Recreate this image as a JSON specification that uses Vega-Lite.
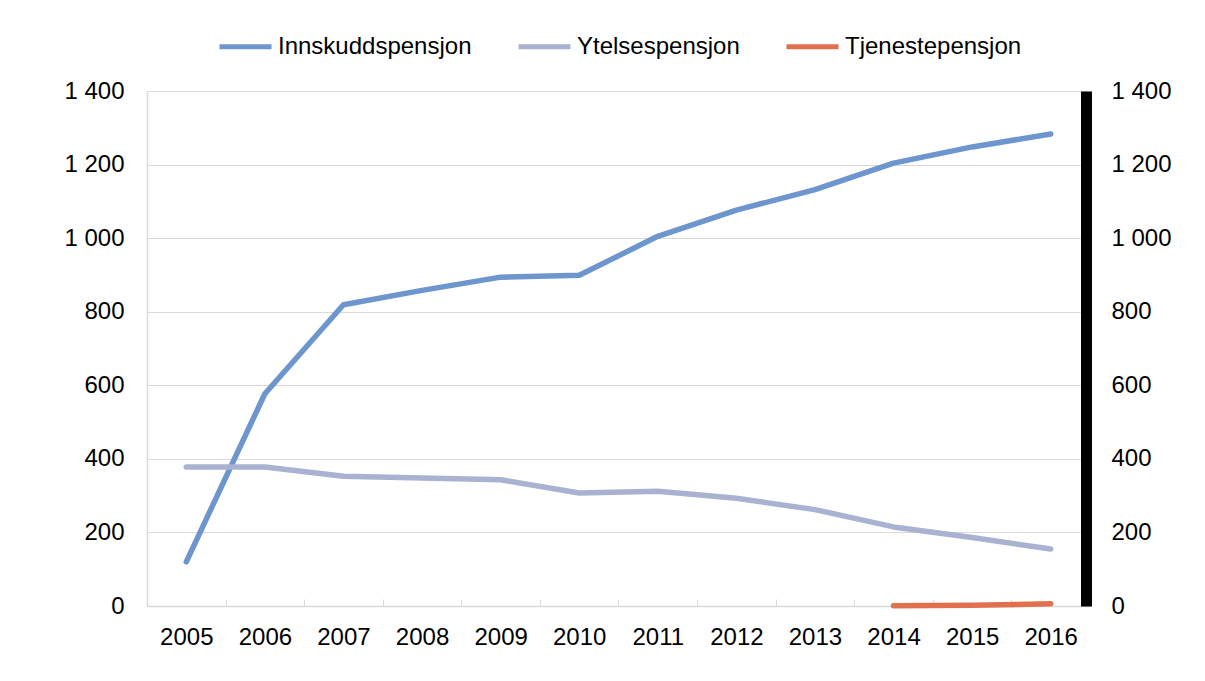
{
  "$schema": "https://vega.github.io/schema/vega-lite/v6.json",
  "width": 943,
  "height": 515,
  "autosize": {"type": "none"},
  "padding": {"left": 147, "top": 91, "right": 115, "bottom": 75},
  "background": "white",
  "config": {
    "font": "Liberation Sans",
    "view": {"stroke": null},
    "axis": {"labelFont": "Liberation Sans", "labelFontSize": 24, "labelColor": "#000000", "titleFontSize": 0}
  },
  "data": {
    "values": [
      {"year": "2005", "type": "Innskuddspensjon", "value": 120},
      {"year": "2006", "type": "Innskuddspensjon", "value": 577},
      {"year": "2007", "type": "Innskuddspensjon", "value": 819},
      {"year": "2008", "type": "Innskuddspensjon", "value": 858},
      {"year": "2009", "type": "Innskuddspensjon", "value": 894},
      {"year": "2010", "type": "Innskuddspensjon", "value": 899},
      {"year": "2011", "type": "Innskuddspensjon", "value": 1005},
      {"year": "2012", "type": "Innskuddspensjon", "value": 1076},
      {"year": "2013", "type": "Innskuddspensjon", "value": 1132},
      {"year": "2014", "type": "Innskuddspensjon", "value": 1204},
      {"year": "2015", "type": "Innskuddspensjon", "value": 1248},
      {"year": "2016", "type": "Innskuddspensjon", "value": 1283},
      {"year": "2005", "type": "Ytelsespensjon", "value": 378},
      {"year": "2006", "type": "Ytelsespensjon", "value": 378},
      {"year": "2007", "type": "Ytelsespensjon", "value": 353},
      {"year": "2008", "type": "Ytelsespensjon", "value": 348},
      {"year": "2009", "type": "Ytelsespensjon", "value": 343},
      {"year": "2010", "type": "Ytelsespensjon", "value": 307},
      {"year": "2011", "type": "Ytelsespensjon", "value": 312},
      {"year": "2012", "type": "Ytelsespensjon", "value": 293},
      {"year": "2013", "type": "Ytelsespensjon", "value": 262},
      {"year": "2014", "type": "Ytelsespensjon", "value": 215},
      {"year": "2015", "type": "Ytelsespensjon", "value": 186},
      {"year": "2016", "type": "Ytelsespensjon", "value": 155},
      {"year": "2014", "type": "Tjenestepensjon", "value": 1},
      {"year": "2015", "type": "Tjenestepensjon", "value": 2},
      {"year": "2016", "type": "Tjenestepensjon", "value": 6}
    ]
  },
  "encoding": {
    "x": {
      "field": "year",
      "type": "ordinal",
      "scale": {"type": "band", "paddingInner": 0, "paddingOuter": 0},
      "axis": {
        "title": null,
        "labelAngle": 0,
        "tickBand": "extent",
        "tickSize": -7,
        "tickColor": "#D9D9D9",
        "domainColor": "#D9D9D9",
        "domainWidth": 1.5,
        "labelPadding": 26,
        "grid": false
      }
    }
  },
  "layer": [
    {
      "mark": {"type": "line", "strokeWidth": 5.5, "strokeCap": "round", "strokeJoin": "round"},
      "encoding": {
        "y": {
          "field": "value",
          "type": "quantitative",
          "scale": {"domain": [0, 1400]},
          "axis": {
            "title": null,
            "values": [0, 200, 400, 600, 800, 1000, 1200, 1400],
            "labelExpr": "replace(format(datum.value, ','), ',', ' ')",
            "ticks": false,
            "labelPadding": 23,
            "domainColor": "#D9D9D9",
            "domainWidth": 1.5,
            "gridColor": "#D9D9D9",
            "gridWidth": 1.2
          }
        },
        "color": {
          "field": "type",
          "type": "nominal",
          "scale": {
            "domain": ["Innskuddspensjon", "Ytelsespensjon", "Tjenestepensjon"],
            "range": ["#6D95CE", "#A9B3D1", "#E2704F"]
          },
          "legend": {
            "title": null,
            "orient": "none",
            "direction": "horizontal",
            "legendX": 70,
            "legendY": -73,
            "symbolType": "stroke",
            "symbolSize": 2704,
            "symbolStrokeWidth": 5,
            "labelFontSize": 24,
            "labelFont": "Liberation Sans",
            "labelColor": "#000000",
            "labelLimit": 0,
            "labelOffset": 4,
            "columnPadding": 36
          }
        }
      }
    },
    {
      "mark": {"type": "line", "opacity": 0},
      "encoding": {
        "y": {
          "field": "value",
          "type": "quantitative",
          "scale": {"domain": [0, 1400]},
          "axis": {
            "title": null,
            "orient": "right",
            "values": [0, 200, 400, 600, 800, 1000, 1200, 1400],
            "labelExpr": "replace(format(datum.value, ','), ',', ' ')",
            "ticks": false,
            "grid": false,
            "offset": -4,
            "domainColor": "#000000",
            "domainWidth": 11,
            "labelPadding": 25
          }
        },
        "detail": {"field": "type"}
      }
    }
  ],
  "resolve": {"scale": {"y": "independent"}}
}
